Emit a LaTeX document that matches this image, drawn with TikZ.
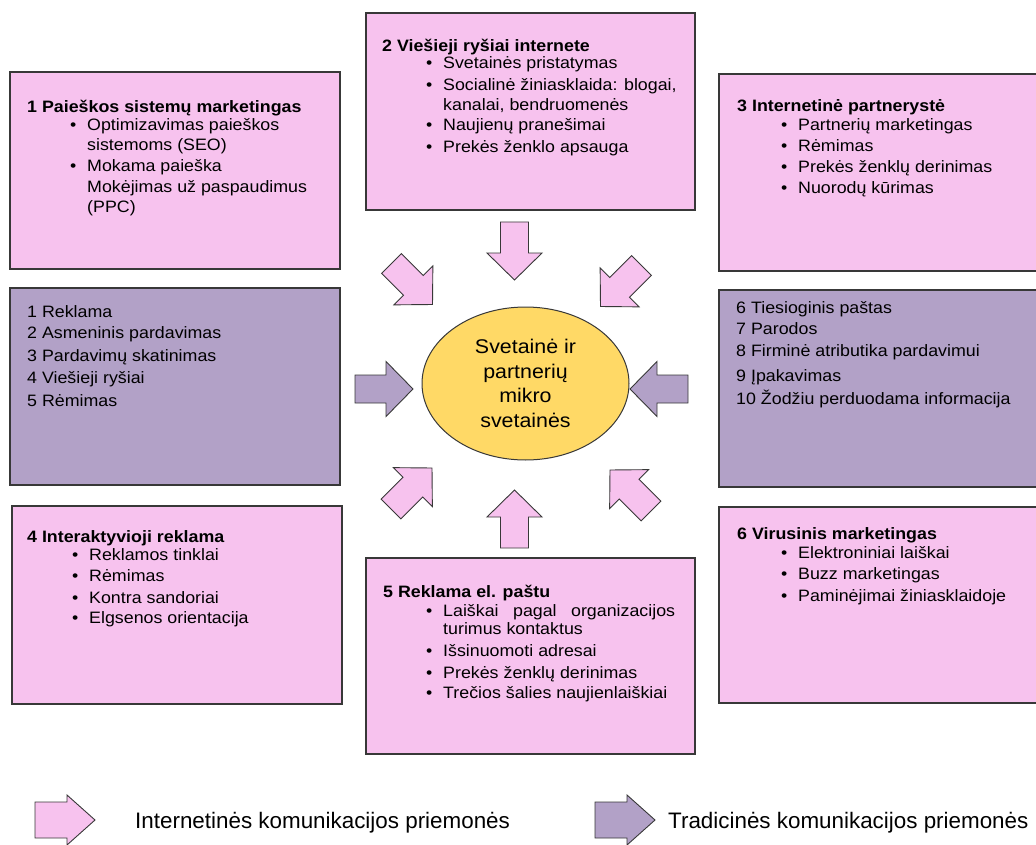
\documentclass[tikz,border=0pt]{standalone}
\usepackage{fontspec}
\setmainfont{Liberation Sans}[FakeStretch=1.08]
\newfontfamily\legendfont{Liberation Sans}
\usetikzlibrary{shapes.geometric}
\definecolor{pinkfill}{HTML}{F7C2EE}
\definecolor{purplefill}{HTML}{B2A1C7}
\definecolor{goldfill}{HTML}{FFD966}
\definecolor{edgecol}{HTML}{383838}
\newcommand\bul[1]{\makebox[17pt][l]{\textbullet}#1}
\tikzset{
  barrow/.pic={\draw[pic actions] (-29,-14) -- (2,-14) -- (2,-27.5) -- (29,0) -- (2,27.5) -- (2,14) -- (-29,14) -- cycle;},
  legarrow/.pic={\draw[pic actions] (-30,-18) -- (2,-18) -- (2,-25) -- (30,0) -- (2,25) -- (2,18) -- (-30,18) -- cycle;},
  box/.style={draw=edgecol, line width=1.2pt},
  pinkbox/.style={box, fill=pinkfill},
  purplebox/.style={box, fill=purplefill},
  pinkarrow/.style={draw=edgecol, line width=0.9pt, fill=pinkfill},
  purplearrow/.style={draw=edgecol, line width=0.9pt, fill=purplefill},
  txt/.style={anchor=base west, inner sep=0pt, font=\fontsize{16.5}{20}\selectfont},
  hdr/.style={anchor=base west, inner sep=0pt, font=\fontsize{16.5}{20}\selectfont\bfseries},
  legtxt/.style={anchor=base west, inner sep=0pt, font=\legendfont\fontsize{22.4}{26}\selectfont},
}
\begin{document}
\begin{tikzpicture}[x=1pt,y=-1pt]
\useasboundingbox (0,0) rectangle (1036,845);
\clip (0,0) rectangle (1036,845);

% boxes
\draw[pinkbox] (10,72) rectangle (340,269);
\draw[pinkbox] (366,13) rectangle (695,210);
\draw[pinkbox] (719,74) rectangle (1050,271);
\draw[purplebox] (10,288) rectangle (340,485);
\draw[purplebox] (719,290) rectangle (1050,487);
\draw[pinkbox] (12,506) rectangle (342,704);
\draw[pinkbox] (366,558) rectangle (695,754);
\draw[pinkbox] (719,507) rectangle (1050,703);

% box 1
\node[hdr] (h1) at (27,113) {1 Paieškos sistemų marketingas};
\node[txt] (b1a) at (70,131) {\bul{Optimizavimas paieškos}};
\node[txt] (b1b) at (87,151) {sistemoms (SEO)};
\node[txt] (b1c) at (70,172) {\bul{Mokama paieška}};
\node[txt] (b1d) at (87,193) {Mokėjimas už paspaudimus};
\node[txt] (b1e) at (87,213) {(PPC)};

% box 2
\node[hdr] (h2) at (382,52) {2 Viešieji ryšiai internete};
\node[txt] (b2a) at (426,69) {\bul{Svetainės pristatymas}};
\node[txt] (b2b) at (426,91) {\bul{Socialinė žiniasklaida: blogai,}};
\node[txt] (b2c) at (443,111) {kanalai, bendruomenės};
\node[txt] (b2d) at (426,131) {\bul{Naujienų pranešimai}};
\node[txt] (b2e) at (426,153) {\bul{Prekės ženklo apsauga}};

% box 3
\node[hdr] (h3) at (737,112) {3 Internetinė partnerystė};
\node[txt] (b3a) at (781,131) {\bul{Partnerių marketingas}};
\node[txt] (b3b) at (781,152) {\bul{Rėmimas}};
\node[txt] (b3c) at (781,173) {\bul{Prekės ženklų derinimas}};
\node[txt] (b3d) at (781,194) {\bul{Nuorodų kūrimas}};

% traditional left
\node[txt] (l1) at (27,317) {1 Reklama};
\node[txt] (l2) at (27,338) {2 Asmeninis pardavimas};
\node[txt] (l3) at (27,361) {3 Pardavimų skatinimas};
\node[txt] (l4) at (27,383) {4 Viešieji ryšiai};
\node[txt] (l5) at (27,406) {5 Rėmimas};

% traditional right
\node[txt] (r1) at (736,313) {6 Tiesioginis paštas};
\node[txt] (r2) at (736,334) {7 Parodos};
\node[txt] (r3) at (736,356) {8 Firminė atributika pardavimui};
\node[txt] (r4) at (736,381) {9 Įpakavimas};
\node[txt] (r5) at (736,404) {10 Žodžiu perduodama informacija};

% box 4
\node[hdr] (h4) at (27,542) {4 Interaktyvioji reklama};
\node[txt] (b4a) at (72,560) {\bul{Reklamos tinklai}};
\node[txt] (b4b) at (72,581) {\bul{Rėmimas}};
\node[txt] (b4c) at (72,603) {\bul{Kontra sandoriai}};
\node[txt] (b4d) at (72,623) {\bul{Elgsenos orientacija}};

% box 5
\node[hdr] (h5) at (383,597) {5 Reklama el. paštu};
\node[txt] (b5a) at (426,616) {\makebox[17pt][l]{\textbullet}\makebox[232pt][s]{Laiškai\hfill pagal\hfill organizacijos}};
\node[txt] (b5b) at (443,634) {turimus kontaktus};
\node[txt] (b5c) at (426,656) {\bul{Išsinuomoti adresai}};
\node[txt] (b5d) at (426,678) {\bul{Prekės ženklų derinimas}};
\node[txt] (b5e) at (426,698) {\bul{Trečios šalies naujienlaiškiai}};

% box 6
\node[hdr] (h6) at (737,539) {6 Virusinis marketingas};
\node[txt] (b6a) at (781,558) {\bul{Elektroniniai laiškai}};
\node[txt] (b6b) at (781,579) {\bul{Buzz marketingas}};
\node[txt] (b6c) at (781,601) {\bul{Paminėjimai žiniasklaidoje}};

% centre
\node[ellipse, draw=edgecol, line width=1pt, fill=goldfill, minimum width=207pt, minimum height=153pt, inner sep=0pt, align=center, font=\fontsize{19.8}{24.5}\selectfont] (centre) at (525.5,383.5) {Svetainė ir\\partnerių\\mikro\\svetainės};

% arrows
\pic[pinkarrow, rotate=-90] at (514.5,251) {barrow};
\pic[pinkarrow, rotate=90] at (514.5,519) {barrow};
\pic[purplearrow] at (384,389) {barrow};
\pic[purplearrow, rotate=180] at (659,389) {barrow};
\pic[pinkarrow, rotate=-45] at (412,284) {barrow};
\pic[pinkarrow, rotate=-135] at (621,286) {barrow};
\pic[pinkarrow, rotate=45] at (411.5,488.5) {barrow};
\pic[pinkarrow, rotate=135] at (630.5,490.5) {barrow};

% legend
\pic[pinkarrow] at (65,820) {legarrow};
\node[legtxt] (leg1) at (135,828) {Internetinės komunikacijos priemonės};
\pic[purplearrow] at (625,820) {legarrow};
\node[legtxt] (leg2) at (668,828) {Tradicinės komunikacijos priemonės};
\end{tikzpicture}
\end{document}
